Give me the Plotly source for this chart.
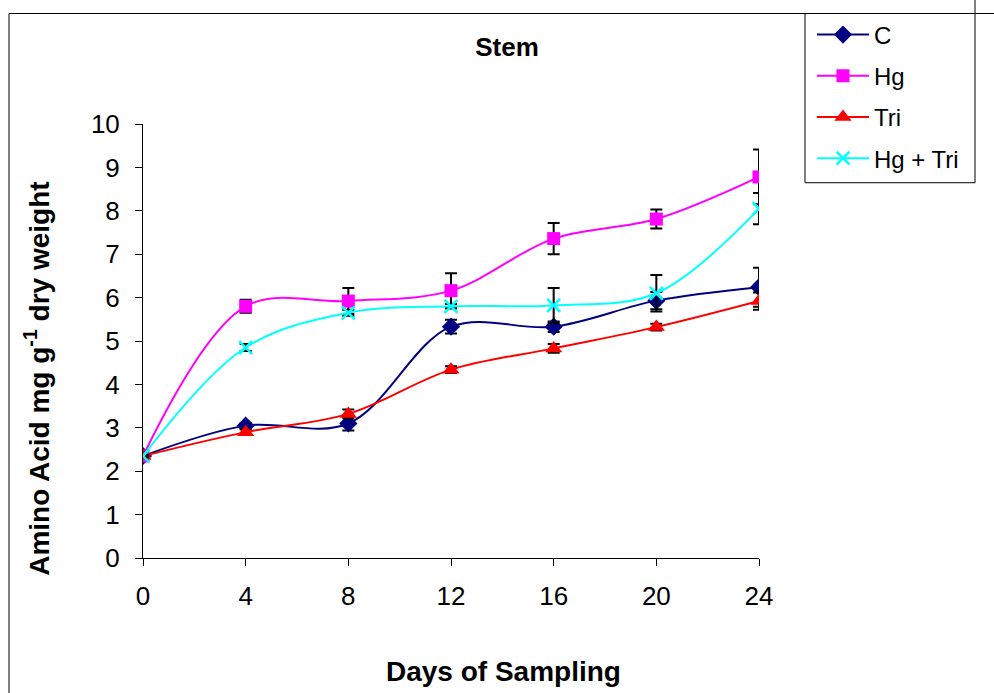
import plotly.graph_objects as go

# Sampling days
days = [0, 4, 8, 12, 16, 20, 24]

# Amino acid content of stem (mg g-1 dry weight) and standard errors
c_vals = [2.35, 3.05, 3.10, 5.33, 5.33, 5.93, 6.24]
c_err = [0.03, 0.06, 0.16, 0.16, 0.12, 0.20, 0.45]

hg_vals = [2.35, 5.80, 5.92, 6.16, 7.36, 7.81, 8.78]
hg_err = [0.03, 0.15, 0.30, 0.40, 0.36, 0.22, 0.63]

tri_vals = [2.35, 2.90, 3.32, 4.34, 4.83, 5.32, 5.92]
tri_err = [0.03, 0.06, 0.10, 0.08, 0.10, 0.08, 0.20]

hgtri_vals = [2.35, 4.85, 5.65, 5.80, 5.82, 6.10, 8.05]
hgtri_err = [0.03, 0.08, 0.07, 0.05, 0.40, 0.42, 0.36]

series = [
    ("C", c_vals, c_err, "#000080", "diamond", 14, None),
    ("Hg", hg_vals, hg_err, "#FF00FF", "square", 13, None),
    ("Tri", tri_vals, tri_err, "#FF0000", "triangle-up", 15, None),
    ("Hg + Tri", hgtri_vals, hgtri_err, "#00FFFF", "x-thin", 13, 2.5),
]

FONT = "Liberation Sans, Arial, sans-serif"

fig = go.Figure()
for i, (name, vals, err, color, symbol, size, mlw) in enumerate(series):
    marker = dict(symbol=symbol, size=size, color=color)
    if mlw:
        marker["line"] = dict(color=color, width=mlw)
    fig.add_trace(go.Scatter(
        x=days, y=vals, name=name, mode="lines+markers",
        line=dict(color=color, width=2, shape="spline", smoothing=1.0),
        marker=marker,
        error_y=dict(type="data", array=err, visible=True,
                     color="black", thickness=2, width=6),
        legendgroup=f"g{i}",
    ))

# pixel geometry of the plot area
L, R, T, B = 143, 759, 122, 558
W, H = R - L, B - T


def px(xp):
    return (xp - L) / W


def py(yp):
    return (B - yp) / H


shapes = [
    # outer frame (left and top edges)
    dict(type="line", xref="paper", yref="paper",
         x0=px(9), x1=px(9), y0=py(11), y1=py(700),
         line=dict(color="black", width=1)),
    dict(type="line", xref="paper", yref="paper",
         x0=px(9), x1=px(1000), y0=py(11), y1=py(11),
         line=dict(color="black", width=1)),
    dict(type="line", xref="paper", yref="paper",
         x0=px(975), x1=px(975), y0=py(-5), y1=py(11),
         line=dict(color="black", width=1)),
    # legend box
    dict(type="rect", xref="paper", yref="paper",
         x0=px(805), x1=px(975), y0=py(181), y1=py(11),
         line=dict(color="black", width=1), fillcolor="rgba(0,0,0,0)"),
]

annotations = [
    dict(text="<b>Days of Sampling</b>", xref="paper", yref="paper",
         x=px(503), y=py(672), xanchor="center", yanchor="middle",
         showarrow=False, font=dict(family=FONT, size=28, color="black")),
    dict(text="<b>Amino Acid mg g<sup>-1</sup> dry weight</b>",
         xref="paper", yref="paper", x=px(37), y=py(378),
         xanchor="center", yanchor="middle", textangle=-90,
         showarrow=False, font=dict(family=FONT, size=28, color="black")),
]

fig.update_layout(
    width=994, height=693,
    margin=dict(l=L, r=994 - R, t=T, b=693 - B, pad=0),
    paper_bgcolor="white", plot_bgcolor="white",
    font=dict(family=FONT, color="black", size=26),
    title=dict(text="<b>Stem</b>", x=px(507), xref="paper", xanchor="center",
               y=1 - 47 / 693, yanchor="middle",
               font=dict(family=FONT, size=26, color="black")),
    showlegend=True,
    legend=dict(x=px(812), y=py(10), xanchor="left", yanchor="top",
                bgcolor="rgba(0,0,0,0)", borderwidth=0,
                font=dict(family=FONT, size=24, color="black"),
                tracegroupgap=7, itemwidth=52),
    shapes=shapes,
    annotations=annotations,
    xaxis=dict(
        range=[0, 24], tickmode="array", tickvals=days,
        ticktext=[str(d) for d in days],
        showgrid=False, zeroline=False, showline=True,
        linecolor="black", linewidth=1,
        ticks="outside", ticklen=7, tickcolor="black",
        ticklabelstandoff=8,
        tickfont=dict(family=FONT, size=26),
    ),
    yaxis=dict(
        range=[0, 10], tickmode="linear", tick0=0, dtick=1,
        showgrid=False, zeroline=False, showline=True,
        linecolor="black", linewidth=1,
        ticks="outside", ticklen=7, tickcolor="black",
        ticklabelstandoff=10,
        tickfont=dict(family=FONT, size=26),
    ),
)

fig.write_html("out.html")
